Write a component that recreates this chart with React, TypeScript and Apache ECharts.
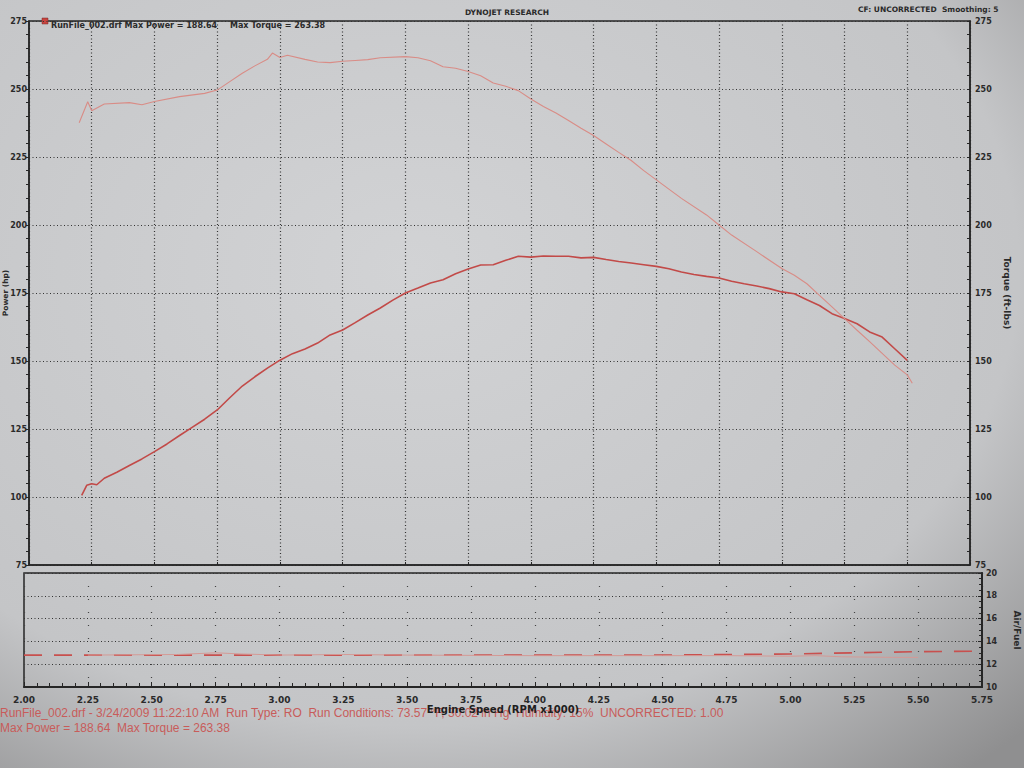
import React, { useEffect, useRef } from "react";
import * as echarts from "echarts";

const powerRpm = [2.21, 2.23, 2.25, 2.27, 2.30, 2.35, 2.40, 2.45, 2.50, 2.55, 2.60, 2.65, 2.70, 2.75, 2.80, 2.85, 2.90, 2.95, 3.00, 3.05, 3.10, 3.15, 3.20, 3.25, 3.30, 3.35, 3.40, 3.45, 3.50, 3.55, 3.60, 3.65, 3.70, 3.75, 3.80, 3.85, 3.90, 3.95, 4.00, 4.05, 4.10, 4.15, 4.20, 4.25, 4.30, 4.35, 4.40, 4.45, 4.50, 4.55, 4.60, 4.65, 4.70, 4.75, 4.80, 4.85, 4.90, 4.95, 5.00, 5.05, 5.10, 5.15, 5.20, 5.25, 5.30, 5.35, 5.40, 5.45, 5.50];
const powerHp = [100.6, 104.3, 104.9, 104.5, 106.9, 109.1, 111.6, 114.0, 116.7, 119.5, 122.6, 125.6, 128.6, 132.0, 136.5, 140.8, 144.2, 147.4, 150.3, 152.7, 154.4, 156.6, 159.6, 161.4, 164.1, 166.9, 169.5, 172.4, 175.0, 176.8, 178.7, 179.9, 182.1, 183.8, 185.3, 185.4, 187.0, 188.5, 188.2, 188.6, 188.5, 188.5, 187.9, 188.1, 187.3, 186.6, 186.0, 185.4, 184.8, 183.9, 182.7, 181.8, 181.1, 180.5, 179.3, 178.4, 177.6, 176.6, 175.4, 174.7, 172.5, 170.4, 167.4, 165.6, 163.7, 160.7, 158.8, 154.5, 150.2];

const torqueRpm = [2.20, 2.234, 2.25, 2.30, 2.40, 2.45, 2.50, 2.60, 2.70, 2.75, 2.80, 2.85, 2.90, 2.95, 2.97, 3.00, 3.03, 3.10, 3.15, 3.20, 3.25, 3.30, 3.35, 3.40, 3.50, 3.55, 3.60, 3.65, 3.70, 3.75, 3.80, 3.85, 3.90, 3.95, 4.00, 4.05, 4.10, 4.15, 4.20, 4.25, 4.30, 4.35, 4.40, 4.45, 4.50, 4.60, 4.70, 4.75, 4.80, 4.90, 5.00, 5.05, 5.10, 5.15, 5.20, 5.25, 5.30, 5.35, 5.40, 5.45, 5.50, 5.52];
const torqueFtLb = [237.6, 245.3, 242.0, 244.5, 245.0, 244.2, 245.4, 247.2, 248.4, 249.6, 252.7, 255.8, 258.5, 260.9, 263.2, 261.6, 262.4, 260.9, 259.9, 259.7, 260.2, 260.5, 260.8, 261.5, 261.9, 261.5, 260.4, 258.2, 257.6, 256.4, 254.9, 252.2, 251.0, 249.4, 246.3, 243.6, 241.2, 238.4, 235.6, 232.9, 229.8, 226.7, 223.7, 220.0, 216.6, 209.8, 203.7, 200.0, 196.3, 190.2, 184.0, 181.5, 178.4, 174.1, 169.9, 165.6, 161.3, 157.1, 152.8, 148.5, 144.9, 141.8];

const afrDashRpm = [2.00, 2.50, 3.00, 3.50, 4.00, 4.50, 4.75, 5.00, 5.25, 5.50, 5.75];
const afrDash = [12.8, 12.8, 12.8, 12.8, 12.8, 12.8, 12.85, 12.9, 13.0, 13.1, 13.15];
const afrRpm = [2.25, 2.60, 2.75, 2.85, 3.00, 3.25, 3.50, 4.00, 4.50, 4.75, 5.00, 5.10, 5.20, 5.40, 5.50];
const afr = [12.8, 12.85, 13.0, 12.9, 12.8, 12.85, 12.8, 12.75, 12.75, 12.75, 12.7, 12.75, 12.65, 12.6, 12.6];

const xTicks = ["2.00", "2.25", "2.50", "2.75", "3.00", "3.25", "3.50", "3.75", "4.00", "4.25", "4.50", "4.75", "5.00", "5.25", "5.50", "5.75"];

const pairs = (xs: number[], ys: number[]) => xs.map((x, i) => [x, ys[i]]);

export default function App() {
  const ref = useRef<HTMLDivElement>(null);
  useEffect(() => {
    if (!ref.current) return;
    const chart = echarts.init(ref.current, null, { renderer: "svg" });
    const dark = "#262626";
    const dotted = { color: "#333", width: 1.2, type: [1, 2.5] as any };
    const lblFont = { fontFamily: "DejaVu Sans", fontWeight: "bold" as const, fontSize: 8, color: "#2a2a2a" };
    const xMin = Number(xTicks[0]);
    const xMax = Number(xTicks[xTicks.length - 1]);
    chart.setOption({
      animation: false,
      backgroundColor: {
        type: "radial", x: 0.4, y: 0.35, r: 0.85,
        colorStops: [
          { offset: 0, color: "#d2d3d5" },
          { offset: 0.7, color: "#c4c5c7" },
          { offset: 1, color: "#8f8f90" },
        ],
      },
      grid: [
        { left: 29, right: 54, top: 21, height: 544, show: true, borderColor: dark, borderWidth: 1.5, backgroundColor: "transparent", containLabel: false, outerBoundsMode: "none" },
        { left: 24, right: 42, top: 573, height: 114, show: true, borderColor: dark, borderWidth: 1.5, backgroundColor: "transparent", containLabel: false, outerBoundsMode: "none" },
      ],
      xAxis: [
        {
          type: "value", gridIndex: 0, min: xMin, max: xMax, interval: 0.25,
          axisLine: { show: true, lineStyle: { color: dark, width: 1.5 } },
          axisTick: { show: true, inside: true, length: 3, lineStyle: { color: dark } },
          axisLabel: { show: false },
          splitLine: { show: true, lineStyle: dotted },
        },
        {
          type: "value", gridIndex: 1, min: xMin, max: xMax, interval: 0.25,
          axisLine: { show: true, lineStyle: { color: dark, width: 2 } },
          axisTick: { show: true, inside: true, length: 5, lineStyle: { color: dark } },
          minorTick: { show: true, splitNumber: 5, length: 4, lineStyle: { color: dark } },
          axisLabel: { ...lblFont, fontSize: 9, margin: 8, formatter: (v: number) => v.toFixed(2) },
          splitLine: { show: true, lineStyle: { color: "#444", width: 1.2, type: [1, 12] } },
          name: "Engine Speed (RPM x1000)", nameLocation: "middle", nameGap: 17,
          nameTextStyle: { fontFamily: "DejaVu Sans", fontWeight: "bold", fontSize: 10, color: "#1e1e1e" },
        },
      ],
      yAxis: [
        {
          type: "value", gridIndex: 0, min: 75, max: 275, interval: 25, position: "left",
          axisLine: { show: true, lineStyle: { color: dark, width: 1.5 } },
          axisTick: { show: true, length: 3, lineStyle: { color: dark } },
          minorTick: { show: true, splitNumber: 5, length: 3, lineStyle: { color: dark } },
          axisLabel: { ...lblFont, margin: 2 },
          splitLine: { show: true, lineStyle: dotted },
        },
        {
          type: "value", gridIndex: 0, min: 75, max: 275, interval: 25, position: "right",
          axisLine: { show: true, lineStyle: { color: dark, width: 1.5 } },
          axisTick: { show: true, inside: true, length: 3, lineStyle: { color: dark } },
          minorTick: { show: true, splitNumber: 5, length: 3, lineStyle: { color: dark } },
          axisLabel: { ...lblFont, margin: 5 },
          splitLine: { show: false },
          name: "Torque (ft-lbs)", nameLocation: "middle", nameGap: 32, nameRotate: -90,
          nameTextStyle: { fontFamily: "DejaVu Sans", fontWeight: "bold", fontSize: 9, color: "#2a2a2a" },
        },
        {
          type: "value", gridIndex: 1, min: 10, max: 20, interval: 2, position: "right",
          axisLine: { show: true, lineStyle: { color: dark, width: 2 } },
          axisTick: { show: true, inside: true, length: 4, lineStyle: { color: dark } },
          minorTick: { show: true, splitNumber: 4, length: 3, lineStyle: { color: dark } },
          axisLabel: { ...lblFont, margin: 4 },
          splitLine: { show: true, lineStyle: dotted },
          name: "Air/Fuel", nameLocation: "middle", nameGap: 30, nameRotate: -90,
          nameTextStyle: { fontFamily: "DejaVu Sans", fontWeight: "bold", fontSize: 9, color: "#2a2a2a" },
        },
      ],
      series: [
        {
          name: "Power", type: "line", xAxisIndex: 0, yAxisIndex: 0, showSymbol: false, smooth: false,
          data: pairs(powerRpm, powerHp), lineStyle: { color: "#c24a48", width: 1.6 },
        },
        {
          name: "Torque", type: "line", xAxisIndex: 0, yAxisIndex: 1, showSymbol: false,
          data: pairs(torqueRpm, torqueFtLb), lineStyle: { color: "#d98c86", width: 1.1 },
        },
        {
          name: "AFR ref", type: "line", xAxisIndex: 1, yAxisIndex: 2, showSymbol: false,
          data: pairs(afrDashRpm, afrDash), lineStyle: { color: "#c8504e", width: 1.6, type: [18, 12] },
        },
        {
          name: "AFR", type: "line", xAxisIndex: 1, yAxisIndex: 2, showSymbol: false,
          data: pairs(afrRpm, afr), lineStyle: { color: "#d49a96", width: 1 },
        },
      ],
      graphic: [
        { type: "text", x: 5, y: 293, rotation: Math.PI / 2, style: { text: "Power (hp)", fontFamily: "DejaVu Sans", fontWeight: "bold", fontSize: 7.5, fill: "#2a2a2a", align: "center", verticalAlign: "middle" } },
        { type: "rect", shape: { x: 42, y: 18, width: 6, height: 6 }, style: { fill: "#c8443f", stroke: "#7a2a28", lineWidth: 0.5 } },
        { type: "text", x: 51, y: 25, style: { text: "RunFile_002.drf Max Power = 188.64", fontFamily: "DejaVu Sans", fontWeight: "bold", fontSize: 8, fill: "#2a2a2a", verticalAlign: "middle" } },
        { type: "text", x: 230, y: 25, style: { text: "Max Torque = 263.38", fontFamily: "DejaVu Sans", fontWeight: "bold", fontSize: 8, fill: "#2a2a2a", verticalAlign: "middle" } },
        { type: "text", x: 507, y: 12, style: { text: "DYNOJET RESEARCH", fontFamily: "DejaVu Sans", fontWeight: "bold", fontSize: 7.5, fill: "#2a2a2a", align: "center", verticalAlign: "middle" } },
        { type: "text", x: 858, y: 9, style: { text: "CF: UNCORRECTED  Smoothing: 5", fontFamily: "DejaVu Sans", fontWeight: "bold", fontSize: 7.5, fill: "#2a2a2a", verticalAlign: "middle" } },
        { type: "text", x: 0, y: 713, style: { text: "RunFile_002.drf - 3/24/2009 11:22:10 AM  Run Type: RO  Run Conditions: 73.57 °F, 30.02 in Hg  Humidity: 15%  UNCORRECTED: 1.00", fontFamily: "Liberation Sans", fontSize: 12, fill: "#c85c5a", verticalAlign: "middle" } },
        { type: "text", x: 0, y: 728, style: { text: "Max Power = 188.64  Max Torque = 263.38", fontFamily: "Liberation Sans", fontSize: 12, fill: "#c85c5a", verticalAlign: "middle" } },
      ],
    });
    return () => chart.dispose();
  }, []);
  return <div ref={ref} style={{ position: "absolute", left: 0, top: 0, width: 1024, height: 768 }} />;
}
